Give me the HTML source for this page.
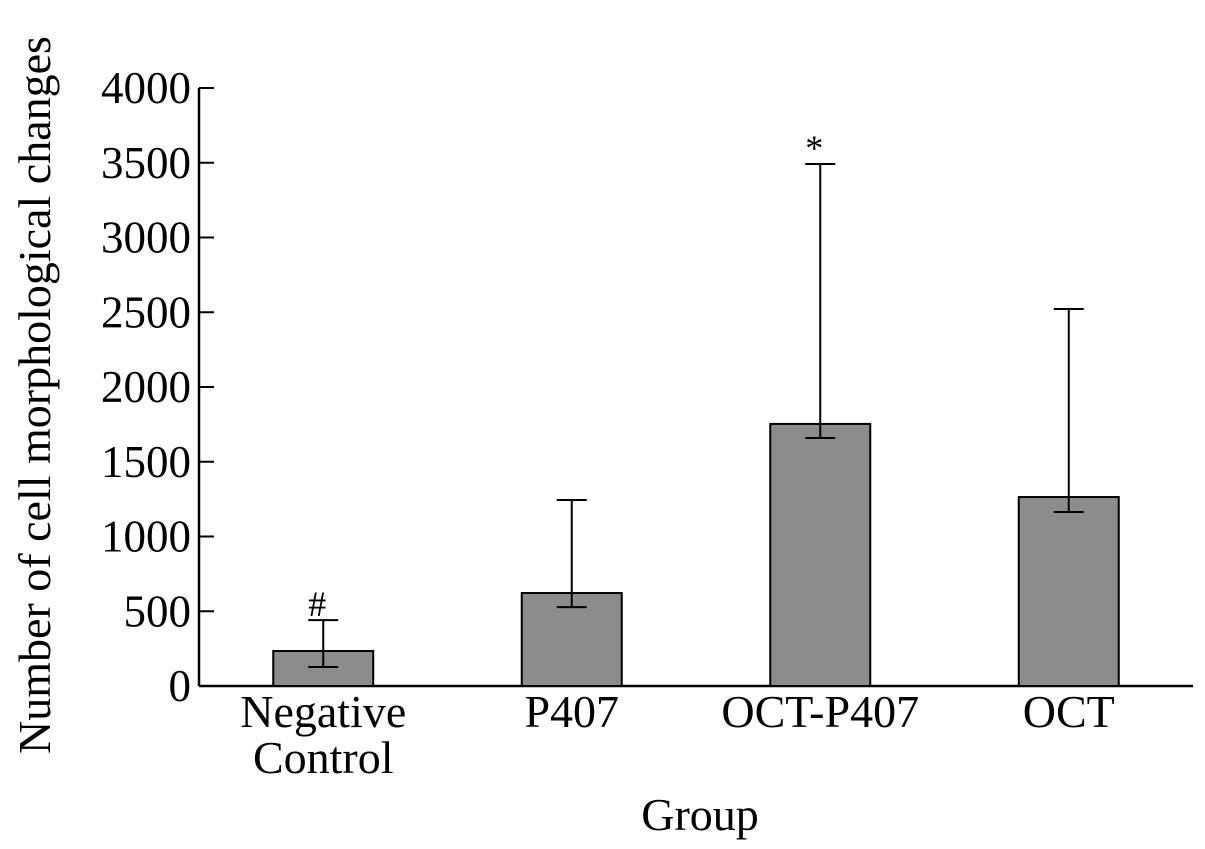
<!DOCTYPE html>
<html><head><meta charset="utf-8"><style>
html,body{margin:0;padding:0;background:#fff;}
svg{display:block;font-family:"Liberation Serif",serif;}
</style></head><body>
<svg id="chart" width="1205" height="849"></svg>
<script>
const categories = ["Negative Control", "P407", "OCT-P407", "OCT"];
const means = [234, 622, 1753, 1264];
const errUpper = [441, 1244, 3492, 2522];
const errLower = [127, 528, 1659, 1164];
const markers = ["#", "", "*", ""];
const yTicks = [0, 500, 1000, 1500, 2000, 2500, 3000, 3500, 4000];

const NS = "http://www.w3.org/2000/svg";
const svg = document.getElementById("chart");
const x0 = 199, x1 = 1193, y0 = 686, yTop = 88, yMax = 4000;
const slot = (x1 - x0) / categories.length;
function y(v){ return y0 - v / yMax * (y0 - yTop); }
function xc(i){ return x0 + slot * (i + 0.5); }
function mk(tag, attrs, parent){
  const e = document.createElementNS(NS, tag);
  for (const k in attrs) e.setAttribute(k, attrs[k]);
  (parent || svg).appendChild(e);
  return e;
}
let a = mk("line", {x1:x0, y1:yTop, x2:x0, y2:y0, stroke:"#000", "stroke-width":2.5});


a = mk("line", {x1:x0, y1:y0, x2:x1, y2:y0, stroke:"#000", "stroke-width":2.5});


yTicks.forEach(v => {
  const t = mk("line", {x1:x0, y1:y(v), x2:x0 + 15, y2:y(v), stroke:"#000", "stroke-width":2});
  
  
  const l = mk("text", {x:x0 - 8, y:y(v) + 15, "text-anchor":"end", "font-size":45});
  l.textContent = v;
  
  
});
categories.forEach((c, i) => {
  const cx = xc(i), w = 100;
  const b = mk("rect", {x:cx - w/2, y:y(means[i]), width:w, height:y0 - y(means[i]), fill:"#8c8c8c", stroke:"#000", "stroke-width":2});
  
  
  const g = mk("g", {stroke:"#000", "stroke-width":2});
  
  
  mk("line", {x1:cx, y1:y(errUpper[i]), x2:cx, y2:y(errLower[i])}, g);
  mk("line", {x1:cx - 15, y1:y(errUpper[i]), x2:cx + 15, y2:y(errUpper[i])}, g);
  mk("line", {x1:cx - 15, y1:y(errLower[i]), x2:cx + 15, y2:y(errLower[i])}, g);
  if (markers[i]) {
    const m = mk("text", {x:cx - 6, y:y(errUpper[i]) - 4, "text-anchor":"middle", "font-size":36});
    m.textContent = markers[i];
    
    
  }
  const parts = c.split(" ");
  parts.forEach((p, j) => {
    const t = mk("text", {x:cx, y:727 + j * 46, "text-anchor":"middle", "font-size":46});
    t.textContent = p;
    
    
  });
});
let t = mk("text", {x:700, y:830, "text-anchor":"middle", "font-size":46});
t.textContent = "Group";


t = mk("text", {x:0, y:0, "text-anchor":"middle", "font-size":46, transform:"translate(50,395) rotate(-90)"});
t.textContent = "Number of cell morphological changes";


</script>
</body></html>
